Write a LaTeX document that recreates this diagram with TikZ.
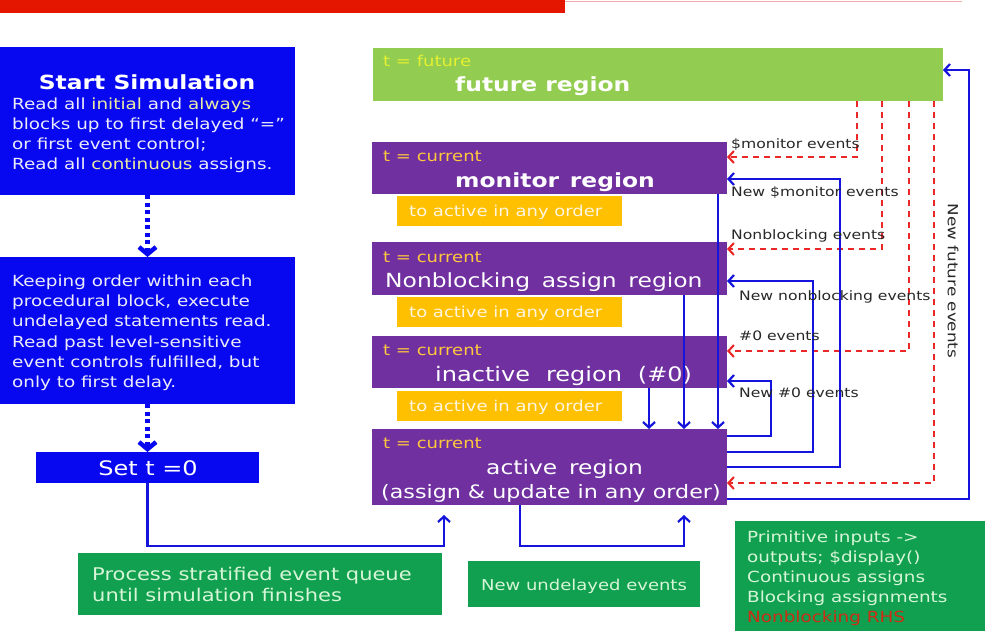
\documentclass[tikz,border=0pt]{standalone}
\usepackage{fontspec}
\setmainfont[FakeStretch=1.2]{DejaVu Sans}
\usetikzlibrary{arrows.meta,calc}
\definecolor{boxblue}{RGB}{8,8,240}
\definecolor{lineblue}{RGB}{20,20,220}
\definecolor{regpurple}{RGB}{112,48,160}
\definecolor{futgreen}{RGB}{146,204,80}
\definecolor{tagorange}{RGB}{255,192,0}
\definecolor{notegreen}{RGB}{16,160,80}
\definecolor{curtext}{RGB}{255,200,60}
\definecolor{futtext}{RGB}{230,240,50}
\definecolor{orangetext}{RGB}{255,245,225}
\definecolor{greentext}{RGB}{215,245,215}
\definecolor{bluetext}{RGB}{235,235,250}
\definecolor{hltext}{RGB}{235,235,165}
\definecolor{labelgray}{RGB}{40,40,40}
\definecolor{dashred}{RGB}{235,40,40}
\definecolor{rhsred}{RGB}{205,45,20}
\definecolor{barred}{RGB}{228,22,0}
\definecolor{barpink}{RGB}{240,170,170}
\newcommand{\hlw}[1]{\textcolor{hltext}{#1}}
\newcommand{\widesp}[1]{\spaceskip=#1em\relax}
\begin{document}
\begin{tikzpicture}[x=1pt,y=-1pt,
  box/.style={draw=none,inner sep=0pt,outer sep=0pt,anchor=north west},
  conn/.style={draw=lineblue,line width=2.2pt,-{Straight Barb[length=5.5pt,width=12pt]}},
  reddash/.style={draw=dashred,line width=2.1pt,dash pattern=on 6pt off 5pt,-{Straight Barb[length=5.5pt,width=12pt]}},
  dotarrow/.style={draw=boxblue,line width=4.5pt,dash pattern=on 4pt off 3.5pt,-{Straight Barb[length=7pt,width=17pt]}},
  curtag/.style={anchor=base west,inner sep=0pt,text=curtext,font=\fontsize{15}{17}\selectfont},
  regbold/.style={anchor=base west,inner sep=0pt,text=white,font=\bfseries\fontsize{19.5}{22}\selectfont},
  regplain/.style={anchor=base west,inner sep=0pt,text=white,font=\fontsize{19.5}{22}\selectfont},
  tagtext/.style={anchor=base west,inner sep=0pt,text=orangetext,font=\fontsize{15}{18}\selectfont},
  evlabel/.style={anchor=base west,inner sep=0pt,text=labelgray,font=\fontsize{13}{15}\selectfont},
  bluebody/.style={anchor=north west,inner sep=0pt,align=left,text=bluetext,font=\fontsize{15.3}{20}\selectfont},
]
\useasboundingbox (0,0) rectangle (989,634);
\fill[white] (0,0) rectangle (989,634);
% top bar
\fill[barred] (0,0) rectangle (565,13);
\draw[barpink,line width=1pt] (565,1.5) -- (962,1.5);

% left column
\node[box,fill=boxblue,minimum width=295,minimum height=148] (start) at (0,47) {};
\node[anchor=base,inner sep=0pt,text=white,font=\bfseries\fontsize{19.5}{22}\selectfont] (starttitle) at (147,89) {Start Simulation};
\node[bluebody] (starttext) at (12,98) {Read all \hlw{initial} and \hlw{always}\\blocks up to first delayed “=”\\or first event control;\\Read all \hlw{continuous} assigns.};

\node[box,fill=boxblue,minimum width=295,minimum height=147] (keep) at (0,257) {};
\node[bluebody,font=\fontsize{15.3}{20.3}\selectfont] (keeptext) at (12,274.5) {Keeping order within each\\procedural block, execute\\undelayed statements read.\\Read past level-sensitive\\event controls fulfilled, but\\only to first delay.};

\node[box,fill=boxblue,minimum width=223,minimum height=31] (sett) at (36,452) {};
\node[anchor=base,inner sep=0pt,text=white,font=\fontsize{20}{22}\selectfont] (setttext) at (148,475) {Set t =0};

\node[box,fill=notegreen,minimum width=364,minimum height=62] (proc) at (78,553) {};
\node[anchor=north west,inner sep=0pt,align=left,text=greentext,font=\fontsize{17.5}{21}\selectfont] (proctext) at (92,567) {Process stratified event queue\\until simulation finishes};

% regions
\node[box,fill=futgreen,minimum width=570,minimum height=53] (future) at (373,48) {};
\node[anchor=base west,inner sep=0pt,text=futtext,font=\fontsize{15}{17}\selectfont] (futtag) at (383,67) {t = future};
\node[regbold] (futname) at (455,92) {future region};

\node[box,fill=regpurple,minimum width=355,minimum height=52] (monitor) at (372,142) {};
\node[curtag] (montag) at (383,161) {t = current};
\node[regbold] (monname) at (455,187) {\widesp{0.55}monitor region};
\node[box,fill=tagorange,minimum width=225,minimum height=30] (o1) at (397,196) {};
\node[tagtext] (o1text) at (409,216) {to active in any order};

\node[box,fill=regpurple,minimum width=355,minimum height=53] (nonblk) at (372,242) {};
\node[curtag] (nbtag) at (383,262) {t = current};
\node[regplain] (nbname) at (385,287) {\widesp{0.6}Nonblocking assign region};
\node[box,fill=tagorange,minimum width=225,minimum height=30] (o2) at (397,297) {};
\node[tagtext] (o2text) at (409,317) {to active in any order};

\node[box,fill=regpurple,minimum width=355,minimum height=52] (inactive) at (372,336) {};
\node[curtag] (intag) at (383,355) {t = current};
\node[regplain,font=\fontsize{20}{22}\selectfont] (inname) at (435,381) {\widesp{0.8}inactive region (\#0)};
\node[box,fill=tagorange,minimum width=225,minimum height=30] (o3) at (397,391) {};
\node[tagtext] (o3text) at (409,411) {to active in any order};

\node[box,fill=regpurple,minimum width=355,minimum height=76] (active) at (372,429) {};
\node[curtag] (actag) at (383,448) {t = current};
\node[regplain] (acname) at (486,474) {\widesp{0.6}active region};
\node[regplain,font=\fontsize{18.5}{22}\selectfont] (acsub) at (381,498) {(assign \& update in any order)};

% bottom notes
\node[box,fill=notegreen,minimum width=232,minimum height=46] (undel) at (468,561) {};
\node[anchor=base,inner sep=0pt,text=greentext,font=\fontsize{15}{18}\selectfont] (undeltext) at (584,590) {New undelayed events};

\node[box,fill=notegreen,minimum width=250,minimum height=110] (prim) at (735,521) {};
\node[anchor=north west,inner sep=0pt,align=left,text=greentext,font=\fontsize{15.3}{20}\selectfont] (primtext) at (747,530.5) {Primitive inputs ->\\outputs; \$display()\\Continuous assigns\\Blocking assignments\\\textcolor{rhsred}{Nonblocking RHS}};

% dotted arrows on the left
\draw[dotarrow] (start.south) -- (keep.north);
\draw[dotarrow] (keep.south) -- (sett.north);

% set t=0 to active
\draw[conn,shorten >=10pt] (sett.south) -- ++(0,63) -| ($(active.south west)+(72,0)$);
% active self loop (new undelayed events)
\draw[conn,shorten >=10pt] ($(active.south west)+(148,0)$) -- ++(0,41) -| ($(active.south west)+(312,0)$);

% down arrows into active
\draw[conn] ($(monitor.south east)+(-9,0)$) -- ($(active.north east)+(-9,0)$);
\draw[conn] ($(nonblk.south east)+(-43,0)$) -- ($(active.north east)+(-43,0)$);
\draw[conn] ($(inactive.south east)+(-78,0)$) -- ($(active.north east)+(-78,0)$);

% red dashed from future region
\draw[reddash] ($(future.south west)+(484,0)$) |- ($(monitor.north east)+(0,15)$);
\draw[reddash] ($(future.south west)+(509,0)$) |- ($(nonblk.north east)+(0,7)$);
\draw[reddash] ($(future.south west)+(536,0)$) |- ($(inactive.north east)+(0,15)$);
\draw[reddash] ($(future.south west)+(561,0)$) |- ($(active.north east)+(0,54)$);

% blue feedback loops from active
\draw[conn] ($(active.north east)+(0,7)$) -- ++(44,0) |- ($(inactive.north east)+(0,45)$);
\draw[conn] ($(active.north east)+(0,23)$) -- ++(86,0) |- ($(nonblk.north east)+(0,39)$);
\draw[conn] ($(active.north east)+(0,38)$) -- ++(113,0) |- ($(monitor.north east)+(0,37)$);
\draw[conn] ($(active.north east)+(0,70)$) -- ++(242,0) |- ($(future.north east)+(0,22)$);

% event labels
\node[evlabel] (l1) at (731,149) {\$monitor events};
\node[evlabel] (l2) at (731,196) {New \$monitor events};
\node[evlabel] (l3) at (731,239) {Nonblocking events};
\node[evlabel] (l4) at (739,300) {New nonblocking events};
\node[evlabel] (l5) at (739,340) {\#0 events};
\node[evlabel] (l6) at (739,397) {New \#0 events};
\node[inner sep=0pt,text=labelgray,font=\fontsize{14}{16}\selectfont,rotate=-90] (l7) at (953,281) {New future events};
\end{tikzpicture}
\end{document}
